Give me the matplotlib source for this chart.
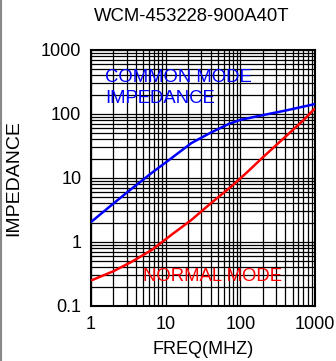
import matplotlib
matplotlib.use("Agg")
import matplotlib.pyplot as plt
from matplotlib.ticker import LogLocator, FixedLocator, FixedFormatter, NullFormatter
from matplotlib.lines import Line2D

plt.rcParams['font.family'] = ['Liberation Sans', 'DejaVu Sans']

title = "WCM-453228-900A40T"
freq_cm = [1, 2, 3.5, 6.5, 12, 22, 40, 70, 100, 200, 400, 1000]
z_cm = [2.05, 4.0, 6.8, 12.0, 20.5, 35, 51, 70, 81, 96, 113, 143]
freq_nm = [1, 2, 3.5, 6.5, 12, 22, 40, 75, 125, 200, 400, 700, 1000]
z_nm = [0.25, 0.35, 0.49, 0.75, 1.3, 2.2, 4.0, 7.3, 12.5, 21, 44, 80, 123]
xticks = [1, 10, 100, 1000]
xticklabels = ["1", "10", "100", "1000"]
yticks = [0.1, 1, 10, 100, 1000]
yticklabels = ["0.1", "1", "10", "100", "1000"]

W, H = 336, 361
fig = plt.figure(figsize=(W / 100, H / 100), dpi=100)
ax = fig.add_axes([91 / W, 1 - 306 / H, 224 / W, 256 / H])
ax.set_xscale('log')
ax.set_yscale('log')
ax.set_xlim(1, 1000)
ax.set_ylim(0.1, 1000)

ax.plot(freq_cm, z_cm, color='#0000ff', lw=1.8, zorder=3, solid_capstyle='butt')
ax.plot(freq_nm, z_nm, color='#ff0000', lw=1.8, zorder=3, solid_capstyle='butt')

ax.xaxis.set_major_locator(FixedLocator(xticks))
ax.xaxis.set_major_formatter(FixedFormatter(xticklabels))
ax.yaxis.set_major_locator(FixedLocator(yticks))
ax.yaxis.set_major_formatter(FixedFormatter(yticklabels))
ax.xaxis.set_minor_locator(LogLocator(base=10, subs=range(2, 10), numticks=20))
ax.yaxis.set_minor_locator(LogLocator(base=10, subs=range(2, 10), numticks=20))
ax.xaxis.set_minor_formatter(NullFormatter())
ax.yaxis.set_minor_formatter(NullFormatter())
ax.tick_params(which='both', length=0, labelsize=13, colors='black')
ax.tick_params(axis='x', pad=7)
ax.tick_params(axis='y', pad=7)
ax.grid(which='both', color='black', lw=0.9)
ax.set_axisbelow(True)
for s in ax.spines.values():
    s.set_linewidth(1.5)
    s.set_color('black')

ax.text(0.0625, 0.875, "COMMON MODE", transform=ax.transAxes, color='#0000ff',
        fontsize=13.3, va='baseline', ha='left', zorder=4)
ax.text(0.0625, 0.793, "IMPEDANCE", transform=ax.transAxes, color='#0000ff',
        fontsize=13.3, va='baseline', ha='left', zorder=4)
ax.text(0.232, 0.0977, "NORMAL MODE", transform=ax.transAxes, color='#ff0000',
        fontsize=13.3, va='baseline', ha='left', zorder=4)

fig.text(191.5 / W, 1 - 16.5 / H, title, fontsize=13.3, ha='center', va='center')
fig.text(203 / W, 1 - 349 / H, "FREQ(MHZ)", fontsize=13, ha='center', va='center')
fig.text(14 / W, 1 - 178 / H, "IMPEDANCE", fontsize=14, ha='center', va='center', rotation=90)

fig.add_artist(Line2D([1 / W, 1 / W], [0, 1], color='#888888', lw=1.5, transform=fig.transFigure))

fig.savefig("out.png", dpi=100)
